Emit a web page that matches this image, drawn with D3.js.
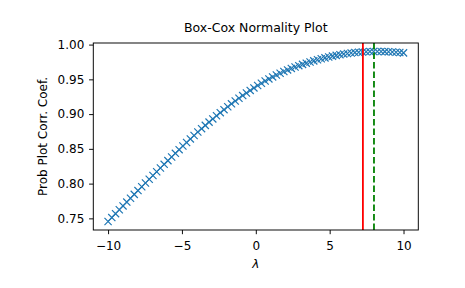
<!DOCTYPE html>
<html>
<head>
<meta charset="utf-8">
<script src="https://cdn.jsdelivr.net/npm/d3@7"></script>
<style>
  body { margin: 0; background: #fff; }
  svg { display: block; font-family: "DejaVu Sans", sans-serif; }
</style>
</head>
<body>
<svg id="svg"></svg>
<script>
// lambda values (80 points between -10 and 10)
const lambdas = d3.range(80).map(i => -10 + i * 20 / 79);

// probability plot correlation coefficient
const ppcc = [
  0.74550, 0.75114, 0.75675, 0.76234, 0.76791, 0.77346, 0.77898, 0.78449, 0.78997, 0.79543,
  0.80087, 0.80628, 0.81168, 0.81705, 0.82240, 0.82773, 0.83304, 0.83833, 0.84359, 0.84883,
  0.85405, 0.85921, 0.86428, 0.86928, 0.87420, 0.87903, 0.88379, 0.88847, 0.89307, 0.89759,
  0.90203, 0.90638, 0.91062, 0.91477, 0.91883, 0.92278, 0.92664, 0.93040, 0.93406, 0.93763,
  0.94109, 0.94441, 0.94759, 0.95062, 0.95350, 0.95624, 0.95883, 0.96128, 0.96358, 0.96573,
  0.96775, 0.96968, 0.97153, 0.97330, 0.97499, 0.97660, 0.97812, 0.97956, 0.98092, 0.98219,
  0.98338, 0.98448, 0.98547, 0.98637, 0.98717, 0.98788, 0.98848, 0.98899, 0.98940, 0.98972,
  0.98993, 0.99005, 0.99006, 0.99001, 0.98987, 0.98966, 0.98938, 0.98901, 0.98857, 0.98805
];

const maxlog = 7.25;      // red line
const ppccMax = 8.0;      // green dashed line

const xTicks = [-10, -5, 0, 5, 10];
const yTicks = [0.75, 0.80, 0.85, 0.90, 0.95, 1.00];

const width = 465;
const height = 288;
const margin = { left: 93.3, right: 46.7, top: 43, bottom: 58 };

const svg = d3.select('#svg')
  .attr('width', width)
  .attr('height', height);

// matplotlib style 5% padding around the data
function padded(ext) {
  const r = ext[1] - ext[0];
  return [ext[0] - 0.05 * r, ext[1] + 0.05 * r];
}

const xScale = d3.scaleLinear()
  .domain(padded(d3.extent(lambdas)))
  .range([margin.left, width - margin.right]);

const yScale = d3.scaleLinear()
  .domain(padded(d3.extent(ppcc)))
  .range([height - margin.bottom, margin.top]);

svg.append('defs').append('clipPath')
  .attr('id', 'clip')
  .append('rect')
  .attr('x', margin.left)
  .attr('y', margin.top)
  .attr('width', width - margin.left - margin.right)
  .attr('height', height - margin.top - margin.bottom);

const g = svg.append('g').attr('clip-path', 'url(#clip)');

// x markers
g.selectAll('path.pt')
  .data(lambdas)
  .enter()
  .append('path')
  .attr('class', 'pt')
  .attr('transform', (d, i) => `translate(${xScale(d)},${yScale(ppcc[i])})`)
  .attr('d', 'M-3.6,-3.6L3.6,3.6M-3.6,3.6L3.6,-3.6')
  .attr('stroke', '#1f77b4')
  .attr('stroke-width', 1.2)
  .attr('fill', 'none');

// vertical lines
g.append('line')
  .attr('x1', xScale(maxlog)).attr('x2', xScale(maxlog))
  .attr('y1', margin.top).attr('y2', height - margin.bottom)
  .attr('stroke', '#ff0000')
  .attr('stroke-width', 1.8);

g.append('line')
  .attr('x1', xScale(ppccMax)).attr('x2', xScale(ppccMax))
  .attr('y1', margin.top).attr('y2', height - margin.bottom)
  .attr('stroke', '#008000')
  .attr('stroke-width', 1.8)
  .attr('stroke-dasharray', '6.6,2.9');

// axes
const xAxis = d3.axisBottom(xScale)
  .tickValues(xTicks)
  .tickSize(4.2)
  .tickPadding(7.3)
  .tickFormat(d3.format('d'));

const yAxis = d3.axisLeft(yScale)
  .tickValues(yTicks)
  .tickSize(4.2)
  .tickPadding(4.8)
  .tickFormat(d3.format('.2f'));

const gx = svg.append('g')
  .attr('transform', `translate(0,${height - margin.bottom})`)
  .call(xAxis);

const gy = svg.append('g')
  .attr('transform', `translate(${margin.left},0)`)
  .call(yAxis);

[gx, gy].forEach(a => {
  a.select('.domain').remove();
  a.selectAll('line').attr('stroke', '#000').attr('stroke-width', 0.96);
  a.selectAll('text')
    .attr('fill', '#000')
    .style('font-size', '12px')
    .style('font-family', '"DejaVu Sans", sans-serif');
});

// frame
svg.append('rect')
  .attr('x', margin.left)
  .attr('y', margin.top)
  .attr('width', width - margin.left - margin.right)
  .attr('height', height - margin.top - margin.bottom)
  .attr('fill', 'none')
  .attr('stroke', '#000')
  .attr('stroke-width', 0.96);

// title and labels
svg.append('text')
  .attr('x', (margin.left + width - margin.right) / 2)
  .attr('y', 32)
  .attr('text-anchor', 'middle')
  .style('font-size', '12.5px')
  .text('Box-Cox Normality Plot');

svg.append('text')
  .attr('x', (margin.left + width - margin.right) / 2)
  .attr('y', 268)
  .attr('text-anchor', 'middle')
  .style('font-size', '12px')
  .style('font-style', 'italic')
  .text('λ');

svg.append('text')
  .attr('transform', `translate(46.7,${(margin.top + height - margin.bottom) / 2}) rotate(-90)`)
  .attr('text-anchor', 'middle')
  .style('font-size', '12px')
  .text('Prob Plot Corr. Coef.');
</script>
</body>
</html>
